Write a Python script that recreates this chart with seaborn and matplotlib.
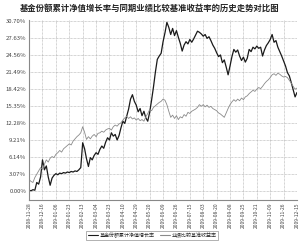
import matplotlib
matplotlib.use("Agg")
import matplotlib.pyplot as plt
import seaborn as sns
import pandas as pd
import numpy as np

tick_dates = ["2008-11-28", "2008-12-16", "2009-01-06", "2009-01-23", "2009-02-13",
              "2009-03-04", "2009-03-23", "2009-04-10", "2009-04-29", "2009-05-20",
              "2009-06-09", "2009-06-26", "2009-07-15", "2009-08-03", "2009-08-20",
              "2009-09-08", "2009-09-25", "2009-10-21", "2009-11-09", "2009-11-26",
              "2009-12-15"]

fund = [0.1, 0.0, 0.2, 0.1, 1.5, 1.2, 2.5, 5.6, 3.8, 4.5,
        2.5, 1.0, 2.3, 2.8, 3.1, 2.9, 3.2, 3.1, 3.3, 3.2,
        3.4, 3.3, 3.5, 3.4, 3.6, 3.5, 3.8, 4.2, 8.7, 7.6,
        5.8, 4.4, 6.0, 5.6, 6.4, 6.9, 6.6, 7.5, 8.1, 7.7,
        8.8, 9.6, 9.2, 10.5, 9.9, 10.2, 9.2, 10.0, 11.4, 12.6,
        12.2, 13.5, 14.8, 16.6, 17.4, 16.2, 15.5, 14.3, 14.9, 13.6,
        14.4, 13.2, 12.6, 14.2, 16.4, 18.8, 21.5, 23.8, 24.4, 24.9,
        27.0, 28.6, 30.5, 29.6, 28.3, 29.4, 28.1, 29.0, 27.8, 26.7,
        25.3, 26.4, 27.0, 26.6, 27.4, 26.9, 27.5, 28.2, 28.9, 28.7,
        28.4, 28.0, 28.3, 27.6, 27.9, 27.2, 26.4, 25.8, 25.0, 24.3,
        24.6, 23.2, 23.7, 22.4, 21.0, 22.6, 24.3, 25.6, 25.1, 25.5,
        24.4, 23.6, 24.2, 23.3, 24.0, 25.6, 25.2, 26.0, 25.7, 26.2,
        25.8, 26.0, 24.4, 25.5, 26.3, 26.8, 27.4, 28.3, 26.9, 27.2,
        26.0, 25.2, 24.4, 23.5, 22.6, 21.4, 20.8, 19.6, 18.3, 17.0,
        17.8]

bench = [2.0, 1.7, 1.5, 2.4, 3.0, 3.6, 4.2, 3.9, 4.8, 5.6,
         5.2, 5.9, 6.2, 6.0, 6.6, 6.9, 7.3, 7.0, 7.6, 7.9,
         8.2, 8.5, 8.3, 9.0, 9.4, 9.8, 10.1, 10.5, 11.6, 10.6,
         9.3, 9.8, 9.4, 9.9, 10.2, 9.8, 10.4, 10.5, 10.8, 10.6,
         11.0, 11.2, 11.3, 11.0, 11.6, 11.9, 11.7, 12.1, 12.3, 12.8,
         13.2, 13.5, 13.1, 13.4, 13.0, 13.2, 12.8, 13.1, 12.7, 12.9,
         12.6, 13.4, 14.0, 14.7, 14.5, 15.1, 15.4, 15.7, 16.0, 16.2,
         16.6, 16.4, 15.6, 14.4, 13.3, 13.7, 13.1, 13.6, 12.9, 13.4,
         13.2, 13.8, 13.5, 14.2, 14.0, 14.4, 14.6, 14.8, 15.1, 15.6,
         15.3, 15.6, 15.2, 15.5, 15.1, 15.3, 14.9, 14.7, 14.5, 14.1,
         13.9, 13.6, 13.3, 14.1, 14.9, 15.6, 16.1, 16.5, 16.2, 16.6,
         16.3, 16.8, 16.5, 17.0, 17.2, 17.6, 17.9, 18.2, 18.0, 18.4,
         18.7, 18.5, 18.9, 19.4, 19.8, 20.1, 20.5, 21.0, 21.2, 20.9,
         21.3, 21.1, 20.8, 20.6, 20.7, 20.5, 20.0, 19.5, 18.9, 18.4,
         18.6]

yticks = [0.00, 3.07, 6.14, 9.21, 12.28, 15.35, 18.42, 21.49, 24.56, 27.63, 30.70]
name_fund = "基金份额累计净值增长率"
name_bench = "业绩比较基准收益率"

sns.set_theme(style="white")
plt.rcParams['font.family'] = ['Noto Sans CJK SC', 'DejaVu Sans']

idx = list(range(len(fund)))
df = pd.DataFrame({
    "i": idx + idx,
    "v": fund + bench,
    "s": [name_fund] * len(fund) + [name_bench] * len(bench),
})

fig = plt.figure(figsize=(3.0, 2.42), dpi=100)
ax = fig.add_axes([0.097, 0.174, 0.893, 0.745])
sns.lineplot(data=df, x="i", y="v", hue="s", palette={name_fund: "#1a1a1a", name_bench: "#8a8a8a"},
             linewidth=0.8, ax=ax, legend=False)
for l, w in zip(ax.lines, [0.9, 0.6]):
    l.set_linewidth(w)

n = len(fund) - 1
step = n / (len(tick_dates) - 1)
ax.set_xticks([k * step for k in range(len(tick_dates))])
ax.set_xticklabels(tick_dates, rotation=90, fontsize=3.6, color="#444444")
ax.set_yticks(yticks)
ax.set_yticklabels([f"{t:.2f}%" for t in yticks], fontsize=4.3, color="#444444")
ax.set_xlim(0, n)
ax.set_ylim(-1.65, 31.0)
ax.set_xlabel("")
ax.set_ylabel("")
ax.tick_params(axis="both", length=0, pad=2)
ax.grid(True, axis="both", linestyle=(0, (1, 1)), color="#aaaaaa", linewidth=0.5)
for side in ["top", "right"]:
    ax.spines[side].set_visible(False)
for side in ["left", "bottom"]:
    ax.spines[side].set_color("#888888")
    ax.spines[side].set_linewidth(0.8)

fig.text(0.5, 0.967, "基金份额累计净值增长率与同期业绩比较基准收益率的历史走势对比图",
         ha="center", va="center", fontsize=6.0, fontweight="bold", color="#222222")

from matplotlib.lines import Line2D
handles = [Line2D([], [], color="#1a1a1a", lw=0.8), Line2D([], [], color="#8a8a8a", lw=0.8)]
leg = fig.legend(handles, [name_fund, name_bench], loc="center", bbox_to_anchor=(0.508, 0.027),
                 ncol=2, fontsize=3.6, frameon=True, fancybox=False, handlelength=2.0,
                 handletextpad=0.3, columnspacing=1.0, borderpad=0.4, edgecolor="#777777")
leg.get_frame().set_linewidth(0.5)

fig.savefig("out.png", dpi=100)
